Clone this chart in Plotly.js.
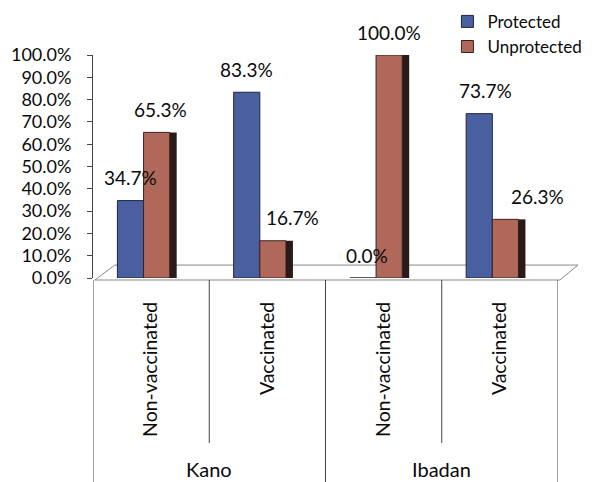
<!DOCTYPE html>
<html>
<head>
<meta charset="utf-8">
<script src="https://cdn.plot.ly/plotly-3.0.1.min.js"></script>
<style>html,body{margin:0;padding:0;background:#fff;}#chart{width:595px;height:482px;}</style>
</head>
<body>
<div id="chart"></div>
<script>
// ---- data ----
const groups = ["Kano", "Ibadan"];
const categories = ["Non-vaccinated", "Vaccinated", "Non-vaccinated", "Vaccinated"];
const categoryGroup = [0, 0, 1, 1];
const protectedVals = [0.347, 0.833, 0.000, 0.737];
const unprotectedVals = [0.653, 0.167, 1.000, 0.263];
const seriesNames = ["Protected", "Unprotected"];
const yTickVals = [0, 0.1, 0.2, 0.3, 0.4, 0.5, 0.6, 0.7, 0.8, 0.9, 1.0];

// ---- style / layout constants ----
const FONT = "Lato, 'Open Sans', sans-serif";
const TXT = "#0a0a0a";
const BLUE = "#4a5fa0";
const RED = "#b0685a";
const SIDE = "#2b1a1a";
const blueOff = -0.29, blueW = 0.225;
const redOff = -0.065, redW = 0.225;
const sideOff = 0.16, sideW = 0.06;
const protNudge = [0, 0, 4, 6];
const unprotNudge = [4, 20, 0, 32];

const xs = categories.map((_, i) => i);
const fmt = v => (v * 100).toFixed(1) + "%";

const traces = [
  { type: "bar", name: seriesNames[0], x: xs, y: protectedVals,
    offset: blueOff, width: blueW,
    marker: { color: BLUE, line: { color: "#1e2440", width: 1 } }, hoverinfo: "y" },
  { type: "bar", name: seriesNames[1], x: xs, y: unprotectedVals,
    offset: redOff, width: redW,
    marker: { color: RED, line: { color: "#3a2020", width: 1 } }, hoverinfo: "y" },
  { type: "bar", name: "side", showlegend: false, x: xs, y: unprotectedVals,
    offset: sideOff, width: sideW,
    marker: { color: SIDE, line: { width: 0 } }, hoverinfo: "skip" }
];

const annotations = [];
xs.forEach(i => {
  annotations.push({ x: i + blueOff + blueW / 2, y: protectedVals[i], xref: "x", yref: "y",
    text: fmt(protectedVals[i]), showarrow: false, yanchor: "middle", yshift: 23,
    xshift: protNudge[i], font: { family: FONT, size: 19, color: TXT } });
  annotations.push({ x: i + redOff + redW / 2, y: unprotectedVals[i], xref: "x", yref: "y",
    text: fmt(unprotectedVals[i]), showarrow: false, yanchor: "middle", yshift: 23,
    xshift: unprotNudge[i], font: { family: FONT, size: 19, color: TXT } });
});
groups.forEach((g, gi) => {
  const members = xs.filter(i => categoryGroup[i] === gi);
  const mid = (members[0] + members[members.length - 1]) / 2;
  annotations.push({ x: mid, y: -0.855, xref: "x", yref: "paper", text: g, showarrow: false,
    yanchor: "middle", font: { family: FONT, size: 20, color: TXT } });
});

const shapes = [];
// floor of the 3D plot
shapes.push({ type: "path", xref: "paper", yref: "paper",
  path: "M0.004,-0.009 L0.047,0.058 L1.043,0.058 L1.004,-0.009 Z",
  line: { color: "#888", width: 1 }, fillcolor: "rgba(0,0,0,0)", layer: "below" });
// category dividers
for (let b = 0; b <= categories.length; b++) {
  const xv = b - 0.5;
  const isOuter = (b === 0 || b === categories.length || categoryGroup[b] !== categoryGroup[b - 1]);
  shapes.push({ type: "line", xref: "x", yref: "paper", x0: xv, x1: xv,
    y0: -0.009, y1: isOuter ? -1.0 : -0.74, line: { color: "#444", width: 1 } });
}

const layout = {
  width: 595, height: 482,
  margin: { l: 93, r: 37, t: 55, b: 204, autoexpand: false },
  paper_bgcolor: "#fff", plot_bgcolor: "rgba(0,0,0,0)",
  barmode: "overlay",
  showlegend: true,
  legend: { xref: "container", yref: "container", x: 0.752, y: 0.992,
    xanchor: "left", yanchor: "top",
    font: { family: FONT, size: 17, color: TXT }, tracegroupgap: 0,
    itemwidth: 30, bgcolor: "rgba(0,0,0,0)" },
  xaxis: { range: [-0.5, 3.5], tickmode: "array", tickvals: xs, ticktext: categories,
    tickangle: -90, ticks: "", showline: false, showgrid: false, zeroline: false,
    ticklabelstandoff: 19, automargin: false,
    tickfont: { family: FONT, size: 19.5, color: TXT }, fixedrange: true },
  yaxis: { range: [0, 1.0], tickmode: "array", tickvals: yTickVals,
    tickformat: ".1%", ticks: "outside", ticklen: 5, tickcolor: "#444",
    showline: true, linecolor: "#444", linewidth: 1, showgrid: false, zeroline: false,
    ticklabelstandoff: 12, automargin: false,
    tickfont: { family: FONT, size: 18, color: TXT }, fixedrange: true },
  annotations: annotations,
  shapes: shapes
};

Plotly.newPlot("chart", traces, layout, { displayModeBar: false, staticPlot: true });
</script>
</body>
</html>
